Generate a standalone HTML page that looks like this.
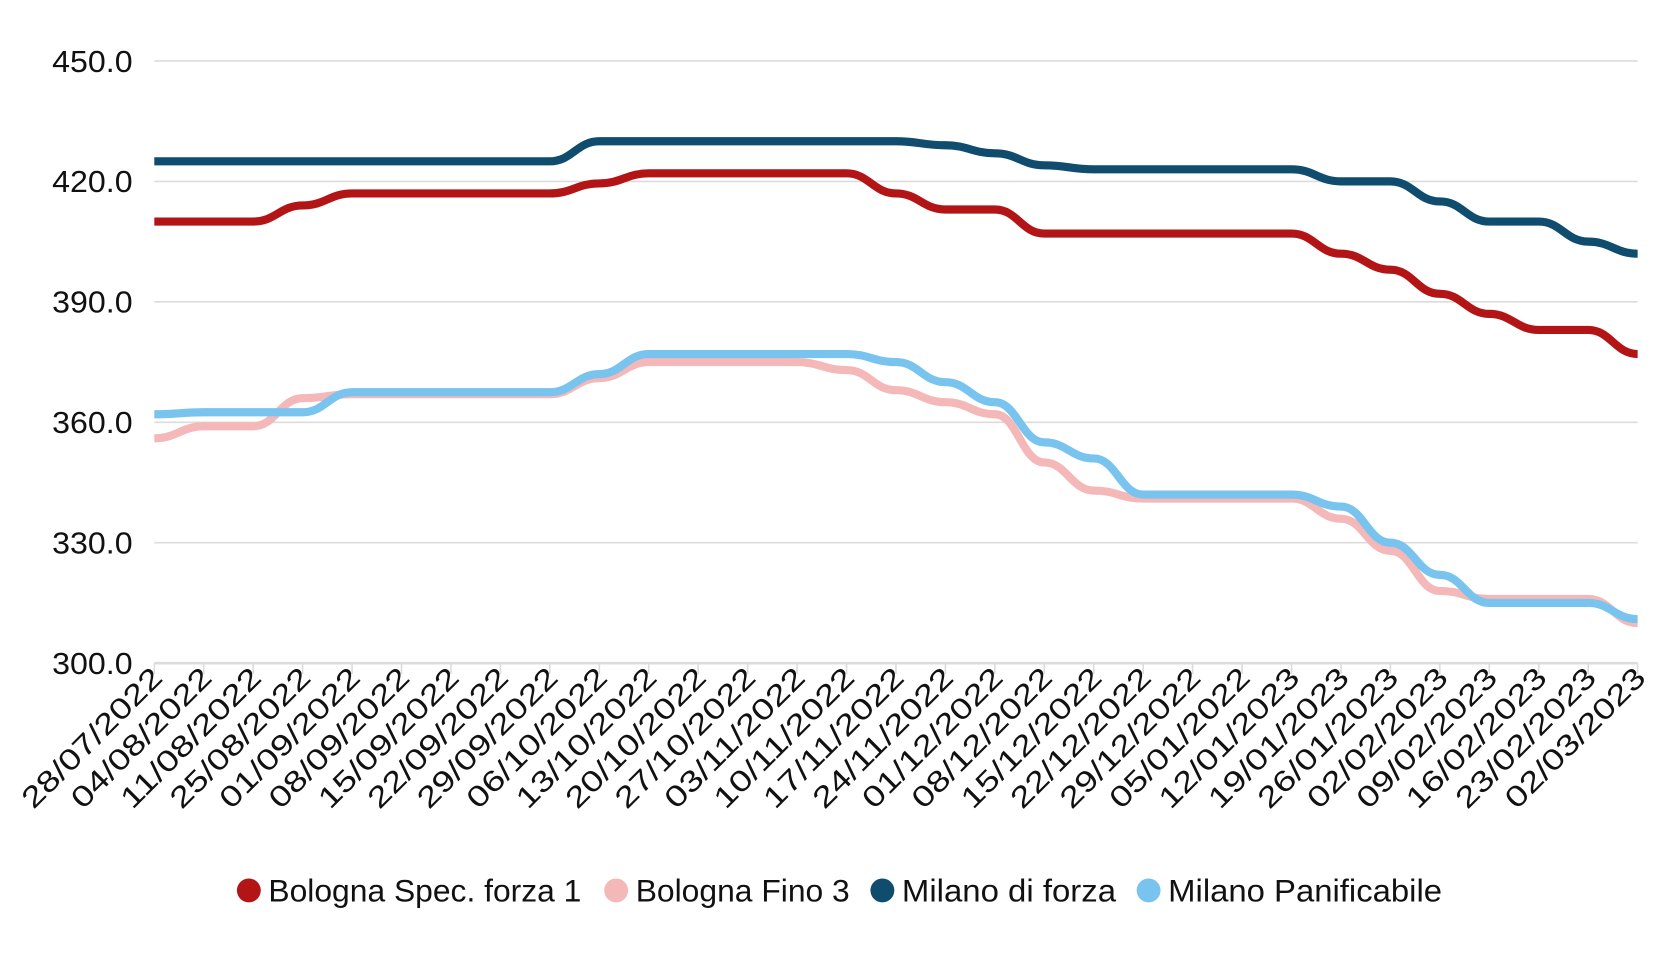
<!DOCTYPE html>
<html><head><meta charset="utf-8"><style>
html,body{margin:0;padding:0;background:#fff;}
svg{display:block;font-family:"Liberation Sans",sans-serif;}
</style></head><body>
<svg id="c" width="1680" height="960" viewBox="0 0 1546 883" preserveAspectRatio="none" xmlns="http://www.w3.org/2000/svg"></svg>
<script>
const svg=document.getElementById('c');
const NS='http://www.w3.org/2000/svg';
function el(t,a,txt){const e=document.createElementNS(NS,t);for(const k in a)e.setAttribute(k,a[k]);if(txt!=null)e.textContent=txt;svg.appendChild(e);return e;}
const x0=142,dx=45.5;
const Y=v=>610-(v-300)*3.693;
for(const v of [300,330,360,390,420,450]){
  el('line',{x1:142,x2:1507,y1:Y(v),y2:Y(v),stroke:'#dcdcdc','stroke-width':v==300?2.5:1.5});
  el('text',{x:122,y:Y(v)+10,'text-anchor':'end','font-size':28.5,fill:'#111',textLength:74,lengthAdjust:'spacingAndGlyphs'},v.toFixed(1));
}
const labels="28/07/2022 04/08/2022 11/08/2022 25/08/2022 01/09/2022 08/09/2022 15/09/2022 22/09/2022 29/09/2022 06/10/2022 13/10/2022 20/10/2022 27/10/2022 03/11/2022 10/11/2022 17/11/2022 24/11/2022 01/12/2022 08/12/2022 15/12/2022 22/12/2022 29/12/2022 05/01/2022 12/01/2023 19/01/2023 26/01/2023 02/02/2023 09/02/2023 16/02/2023 23/02/2023 02/03/2023".split(' ');
labels.forEach((l,i)=>{
  const x=x0+dx*i;
  el('line',{x1:x,x2:x,y1:610,y2:620,stroke:'#dcdcdc','stroke-width':1.5});
  el('text',{x:x+9,y:625,'text-anchor':'end','font-size':27,fill:'#111',textLength:170,lengthAdjust:'spacingAndGlyphs',transform:`rotate(-45 ${x+9} 625)`},l);
});
const series=[
 ['#f4b8b8',[356,359,359,366,367,367,367,367,367,371,375,375,375,375,373,368,365,362,350,343,341,341,341,341,336,328,318,316,316,316,310]],
 ['#b31517',[410,410,410,414,417,417,417,417,417,419.5,422,422,422,422,422,417,413,413,407,407,407,407,407,407,402,398,392,387,383,383,377]],
 ['#0f4c6e',[425,425,425,425,425,425,425,425,425,430,430,430,430,430,430,430,429,427,424,423,423,423,423,423,420,420,415,410,410,405,402]],
 ['#79c3ef',[362,362.5,362.5,362.5,367.5,367.5,367.5,367.5,367.5,372,377,377,377,377,377,375,370,365,355,351,342,342,342,342,339,330,322,315,315,315,311]]
];
for(const [c,d] of series){
  let p=`M${x0},${Y(d[0])}`;
  for(let i=1;i<d.length;i++){
    const xa=x0+dx*(i-1),xb=x0+dx*i;
    p+=` C${xa+dx*0.45},${Y(d[i-1])} ${xb-dx*0.45},${Y(d[i])} ${xb},${Y(d[i])}`;
  }
  el('path',{d:p,fill:'none',stroke:c,'stroke-width':7.5,'stroke-linejoin':'round'});
}
const leg=[['#b31517','Bologna Spec. forza 1',229,288],['#f4b8b8','Bologna Fino 3',567,197],['#0f4c6e','Milano di forza',812,197],['#79c3ef','Milano Panificabile',1057,252]];
for(const [c,t,x,w] of leg){
  el('circle',{cx:x,cy:819,r:11,fill:c});
  el('text',{x:x+18,y:829,'font-size':29,fill:'#111',textLength:w,lengthAdjust:'spacingAndGlyphs'},t);
}
</script>
</body></html>
